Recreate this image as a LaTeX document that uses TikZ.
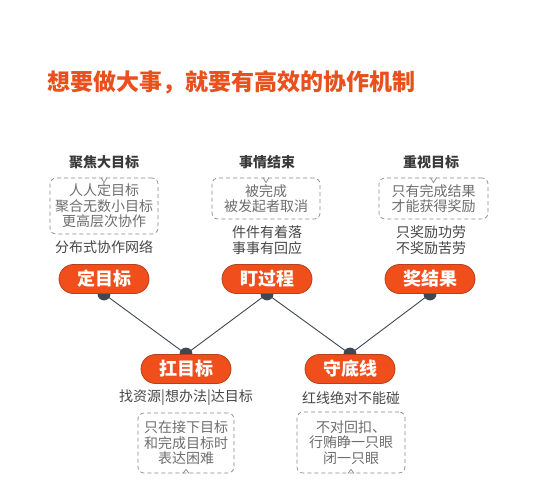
\documentclass[tikz,border=0pt]{standalone}
\usepackage{fontspec}
\setmainfont{Noto Sans CJK SC}
\usetikzlibrary{shapes.misc,backgrounds}
\definecolor{titlec}{HTML}{E8501E}
\definecolor{pillc}{HTML}{F04E1A}
\definecolor{pilld}{HTML}{B8401C}
\definecolor{knobc}{HTML}{3E4852}
\definecolor{headc}{HTML}{3A3A3A}
\definecolor{capc}{HTML}{474747}
\definecolor{innc}{HTML}{6E6E6E}
\definecolor{dashc}{HTML}{8A8A8A}
\begin{document}
\begin{tikzpicture}[x=1pt,y=-1pt,
  pill/.style={rounded rectangle, fill=pillc, draw=pilld, line width=0.8pt,
    minimum width=90pt, minimum height=29pt, inner sep=0pt, text=white,
    font=\bfseries\fontsize{18}{20}\selectfont},
  headtext/.style={text=headc, inner sep=0pt, font=\bfseries\fontsize{14}{16}\selectfont},
  captext/.style={text=capc, inner sep=0pt, align=center, font=\fontsize{14}{15.5}\selectfont},
  dbox/.style={draw=dashc, dashed, dash pattern=on 4pt off 3pt, line width=0.7pt,
    rounded corners=6pt, inner sep=0pt, align=center, text=innc,
    font=\fontsize{14}{15.5}\selectfont},
  link/.style={draw=knobc, line width=0.9pt},
  caret/.style={draw=dashc, line width=0.7pt}]
\useasboundingbox (0,0) rectangle (540,500);

\node[text=titlec, inner sep=0pt, font=\bfseries\fontsize{23}{26}\selectfont] (title) at (231,82) {想要做大事，就要有高效的协作机制};

% top pills
\node[pill] (p1) at (104,279) {定目标};
\node[pill] (p2) at (267,279) {盯过程};
\node[pill] (p3) at (430,279) {奖结果};
% bottom pills
\node[pill] (q1) at (186,369) {扛目标};
\node[pill] (q2) at (350,369) {守底线};

\begin{scope}[on background layer]
  \fill[white] (0,0) rectangle (540,500);
  \draw[link] (p1.south) -- (q1.north);
  \draw[link] (p2.south) -- (q1.north);
  \draw[link] (p2.south) -- (q2.north);
  \draw[link] (p3.south) -- (q2.north);
  \fill[knobc] (p1.south) circle (6.5pt);
  \fill[knobc] (p2.south) circle (6.5pt);
  \fill[knobc] (p3.south) circle (6.5pt);
  \fill[knobc] (q1.north) circle (6.5pt);
  \fill[knobc] (q2.north) circle (6.5pt);
\end{scope}

% column 1
\node[headtext] (h1) at (104,162) {聚焦大目标};
\node[dbox, minimum width=108pt, minimum height=56pt] (b1) at (104,206) {人人定目标\\聚合无数小目标\\更高层次协作};
\node[captext] (c1) at (104,247) {分布式协作网络};
% column 2
\node[headtext] (h2) at (267,162) {事情结束};
\node[dbox, minimum width=108pt, minimum height=41pt] (b2) at (266,198.5) {被完成\\被发起者取消};
\node[captext] (c2) at (267,240) {件件有着落\\事事有回应};
% column 3
\node[headtext] (h3) at (431,162) {重视目标};
\node[dbox, minimum width=109pt, minimum height=41pt] (b3) at (433.5,198.5) {只有完成结果\\才能获得奖励};
\node[captext] (c3) at (431,240) {只奖励功劳\\不奖励苦劳};
% bottom column 1
\node[captext] (c4) at (186,398) {找资源|想办法|达目标};
\node[dbox, minimum width=96pt, minimum height=60pt] (b4) at (186,443) {只在接下目标\\和完成目标时\\表达困难};
% bottom column 2
\node[captext] (c5) at (351,398) {红线绝对不能碰};
\node[dbox, minimum width=108pt, minimum height=61pt] (b5) at (351,442.5) {不对回扣、\\行贿睁一只眼\\闭一只眼};

% carets
\draw[caret] ([xshift=-3pt]b1.north) -- ([yshift=-5pt]b1.north) -- ([xshift=3pt]b1.north);
\draw[caret] ([xshift=-3pt]b2.north) -- ([yshift=-5pt]b2.north) -- ([xshift=3pt]b2.north);
\draw[caret] ([xshift=-3pt]b3.north) -- ([yshift=-5pt]b3.north) -- ([xshift=3pt]b3.north);
\draw[caret] ([xshift=-3pt]b4.south) -- ([yshift=4pt]b4.south) -- ([xshift=3pt]b4.south);
\draw[caret] ([xshift=-3pt]b5.south) -- ([yshift=4pt]b5.south) -- ([xshift=3pt]b5.south);
\end{tikzpicture}
\end{document}
